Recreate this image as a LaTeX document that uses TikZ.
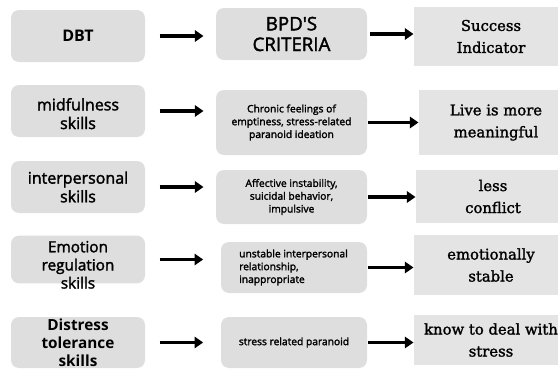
\documentclass[tikz,border=0pt]{standalone}
\usepackage{fontspec}
\setmainfont{DejaVu Serif}
\newfontfamily\resfont{DejaVu Serif}[FakeBold=1.6]
\setsansfont{Open Sans}
\newfontfamily\medsans{Open Sans}[FakeBold=2]
\usetikzlibrary{arrows.meta}
\definecolor{boxgray}{RGB}{222,222,222}
\definecolor{boxlight}{RGB}{228,228,228}
\newcommand{\lowline}[2]{\raisebox{-#1}[\height][\depth]{#2}}
\tikzset{every picture/.style={line width=0.75pt}}
\tikzset{
  skillbox/.style={fill=boxgray, rounded corners=6pt, minimum width=100.5pt, minimum height=39pt,
    align=center, inner sep=0pt, font=\medsans\fontsize{12}{14}\selectfont},
  critbox/.style={fill=boxgray, rounded corners=6pt, minimum width=113.25pt, minimum height=39pt,
    align=center, inner sep=0pt, font=\medsans\fontsize{7.7}{9.6}\selectfont},
  resbox/.style={fill=boxlight, minimum width=115.5pt, minimum height=39pt,
    align=center, inner sep=0pt, font=\resfont\fontsize{11.1}{16.5}\selectfont},
  arr/.style={line width=2.4pt, -{Triangle[length=6.5pt,width=8.5pt]}}
}

\begin{document}
\begin{tikzpicture}[x=0.75pt,y=0.75pt,yscale=-1,xscale=1]
\useasboundingbox (0,0) rectangle (558,371);
\clip (0,0) rectangle (558,371);

% first column
\node [skillbox, font=\sffamily\bfseries\fontsize{12}{14}\selectfont] (dbt) at (78,36) {DBT};
\node [skillbox] (mind) at (78,111) {\lowline{2pt}{midfulness}\\\lowline{2pt}{skills}};
\node [skillbox] (inter) at (78,187) {interpersonal\\skills};
\node [skillbox, minimum height=33.75pt, font=\medsans\fontsize{11.5}{13.6}\selectfont] (emo) at (78,259.5) {\lowline{4pt}{Emotion}\\\lowline{4pt}{regulation}\\\lowline{4pt}{skills}};
\node [skillbox, minimum height=38.25pt, font=\sffamily\bfseries\fontsize{11.5}{13.6}\selectfont] (dist) at (78,342.5) {Distress\\tolerance\\skills};

% second column
\node [critbox, font=\medsans\fontsize{14}{15.5}\selectfont] (bpd) at (291.5,34) {BPD'S\\CRITERIA};
\node [critbox, minimum height=48.75pt] (chron) at (291.5,122.5) {Chronic feelings of\\emptiness, stress-related\\paranoid ideation};
\node [critbox, minimum height=40.5pt] (affect) at (291.5,197) {Affective instability,\\suicidal behavior,\\impulsive};
\node [critbox, minimum width=109.5pt, minimum height=38.25pt, align=left] (unst) at (294,267.5) {unstable interpersonal\\relationship,\\inappropriate\hspace*{33pt}};
\node [critbox, minimum width=109.5pt, minimum height=38.25pt] (para) at (294,342.5) {stress related paranoid};

% third column
\node [resbox, minimum height=44.25pt] (succ) at (491,36.5) {Success\\Indicator};
\node [resbox, minimum height=48.75pt] (live) at (496,122.5) {Live is more\\meaningful};
\node [resbox, minimum height=39.75pt] (less) at (493,196.5) {less\\conflict};
\node [resbox, minimum height=45pt] (stab) at (491,265) {emotionally\\stable};
\node [resbox, minimum height=37.5pt] (deal) at (491,340) {know to deal with\\stress};

% arrows
\draw [arr, shorten <=10.5pt, shorten >=9pt] (dbt.east) -- (dbt.east -| bpd.west);
\draw [arr, shorten <=10.5pt, shorten >=9pt] (mind.east) -- (mind.east -| chron.west);
\draw [arr, shorten <=10.5pt, shorten >=9pt] (inter.east) -- (inter.east -| affect.west);
\draw [arr, shorten <=10.5pt, shorten >=13pt] (emo.east) -- (emo.east -| unst.west);
\draw [arr, shorten <=10.5pt, shorten >=13pt] (dist.east) -- (dist.east -| para.west);
\draw [arr, shorten <=2pt, shorten >=0pt] (bpd.east) -- (bpd.east -| succ.west);
\draw [arr, shorten <=0pt] (chron.east) -- (chron.east -| live.west);
\draw [arr, shorten <=0pt] (affect.east) -- (affect.east -| less.west);
\draw [arr, shorten <=0pt] (unst.east) -- (unst.east -| stab.west);
\draw [arr, shorten <=0pt] (para.east) -- (para.east -| deal.west);
\end{tikzpicture}
\end{document}
